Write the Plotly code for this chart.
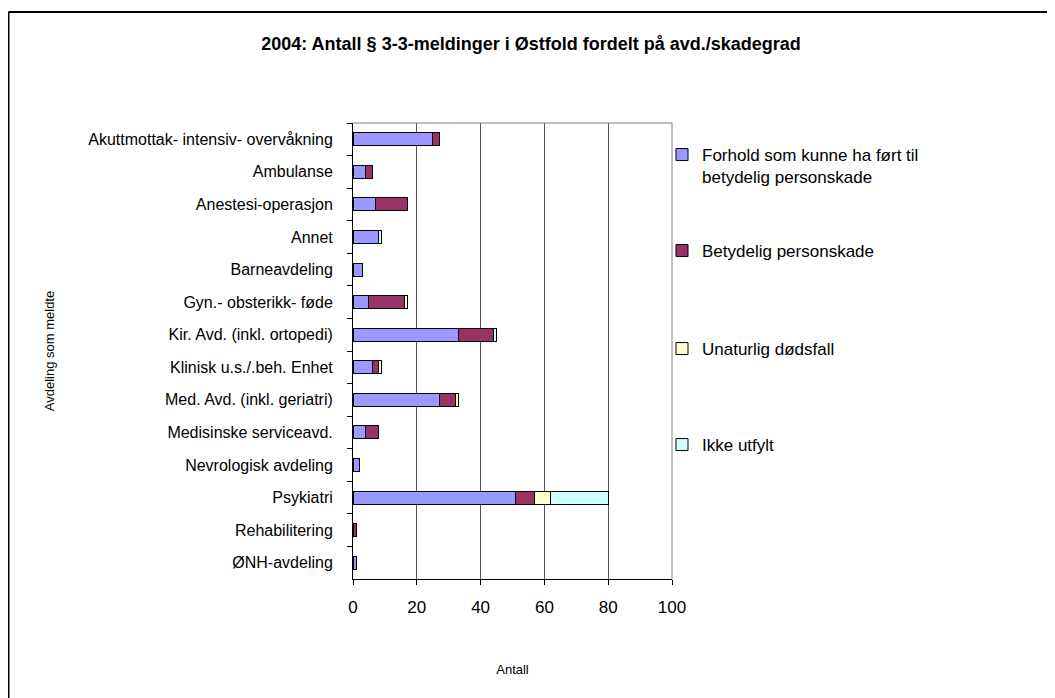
import plotly.graph_objects as go

categories = [
    "Akuttmottak- intensiv- overvåkning",
    "Ambulanse",
    "Anestesi-operasjon",
    "Annet",
    "Barneavdeling",
    "Gyn.- obsterikk- føde",
    "Kir. Avd. (inkl. ortopedi)",
    "Klinisk u.s./.beh. Enhet",
    "Med. Avd. (inkl. geriatri)",
    "Medisinske serviceavd.",
    "Nevrologisk avdeling",
    "Psykiatri",
    "Rehabilitering",
    "ØNH-avdeling",
]

forhold = [25, 4, 7, 8, 3, 5, 33, 6, 27, 4, 2, 51, 0, 1]
betydelig = [2, 2, 10, 0, 0, 11, 11, 2, 5, 4, 0, 6, 1, 0]
unaturlig = [0, 0, 0, 0, 0, 1, 0, 1, 1, 0, 0, 5, 0, 0]
ikke_utfylt = [0, 0, 0, 1, 0, 0, 1, 0, 0, 0, 0, 18, 0, 0]

series_names = [
    "Forhold som kunne ha ført til<br>betydelig personskade",
    "Betydelig personskade",
    "Unaturlig dødsfall",
    "Ikke utfylt",
]
series_values = [forhold, betydelig, unaturlig, ikke_utfylt]
series_colors = ["#9999FF", "#993366", "#FFFFCC", "#CCFFFF"]

x_ticks = [0, 20, 40, 60, 80, 100]

# figure geometry (the page adds an 8px body margin around the figure)
W, H = 1047, 690
L, T, PW, PH = 345, 115, 319, 456


def px_x(x):
    return (x - L) / PW


def px_y(y):
    return (T + PH - y) / PH


legend_ids = ["legend", "legend2", "legend3", "legend4"]
legend_mid_y = [158, 243, 341, 437]

fig = go.Figure()
for name, vals, col, lid in zip(series_names, series_values, series_colors, legend_ids):
    fig.add_trace(go.Bar(
        y=categories, x=vals, name=name, orientation="h",
        marker=dict(color=col, line=dict(color="#000000", width=1)),
        width=0.4, legend=lid,
    ))

layout_legends = {}
for lid, my in zip(legend_ids, legend_mid_y):
    layout_legends[lid] = dict(
        x=px_x(654), xanchor="left", y=px_y(my), yanchor="middle",
        font=dict(size=17), bgcolor="rgba(0,0,0,0)", valign="top",
        itemwidth=30,
    )

fig.update_layout(
    width=W, height=H,
    margin=dict(l=L, r=W - L - PW, t=T, b=H - T - PH, autoexpand=False),
    paper_bgcolor="white", plot_bgcolor="white",
    barmode="stack",
    font=dict(family="Liberation Sans, Arial, sans-serif", color="#000000"),
    title=dict(
        text="<b>2004: Antall § 3-3-meldinger i Østfold fordelt på avd./skadegrad</b>",
        font=dict(size=18), x=523 / W, xanchor="center",
        y=1 - 36 / H, yanchor="middle", xref="container", yref="container",
    ),
    showlegend=True,
    xaxis=dict(
        range=[0, 100], tickvals=x_ticks, ticktext=[str(v) for v in x_ticks],
        showgrid=True, gridcolor="#555555", gridwidth=1,
        showline=True, linecolor="#000000", linewidth=1,
        ticks="outside", ticklen=5, tickcolor="#000000",
        tickfont=dict(size=17), zeroline=False, ticklabelstandoff=8,
        title=dict(text="Antall", font=dict(size=13), standoff=48),
    ),
    yaxis=dict(
        type="category", autorange="reversed",
        showline=True, linecolor="#000000", linewidth=1,
        ticks="outside", ticklen=5, tickcolor="#000000", tickson="boundaries",
        tickfont=dict(size=16), ticklabelstandoff=16,
        showgrid=False, zeroline=False,
        title=dict(text="Avdeling som meldte", font=dict(size=13), standoff=30),
    ),
    **layout_legends,
)

# plot-area border (top and right) in gray
fig.add_shape(type="line", xref="paper", yref="paper", x0=0, x1=1, y0=1, y1=1,
              line=dict(color="#808080", width=1))
fig.add_shape(type="line", xref="paper", yref="paper", x0=1, x1=1, y0=0, y1=1,
              line=dict(color="#808080", width=1))
# outer chart frame (top and left edges)
fig.add_shape(type="line", xref="paper", yref="paper",
              x0=px_x(0.5), x1=px_x(W + 2), y0=px_y(4), y1=px_y(4),
              line=dict(color="#000000", width=2))
fig.add_shape(type="line", xref="paper", yref="paper",
              x0=px_x(0.5), x1=px_x(0.5), y0=px_y(4), y1=px_y(H + 2),
              line=dict(color="#000000", width=2))

fig.write_html("out.html")
